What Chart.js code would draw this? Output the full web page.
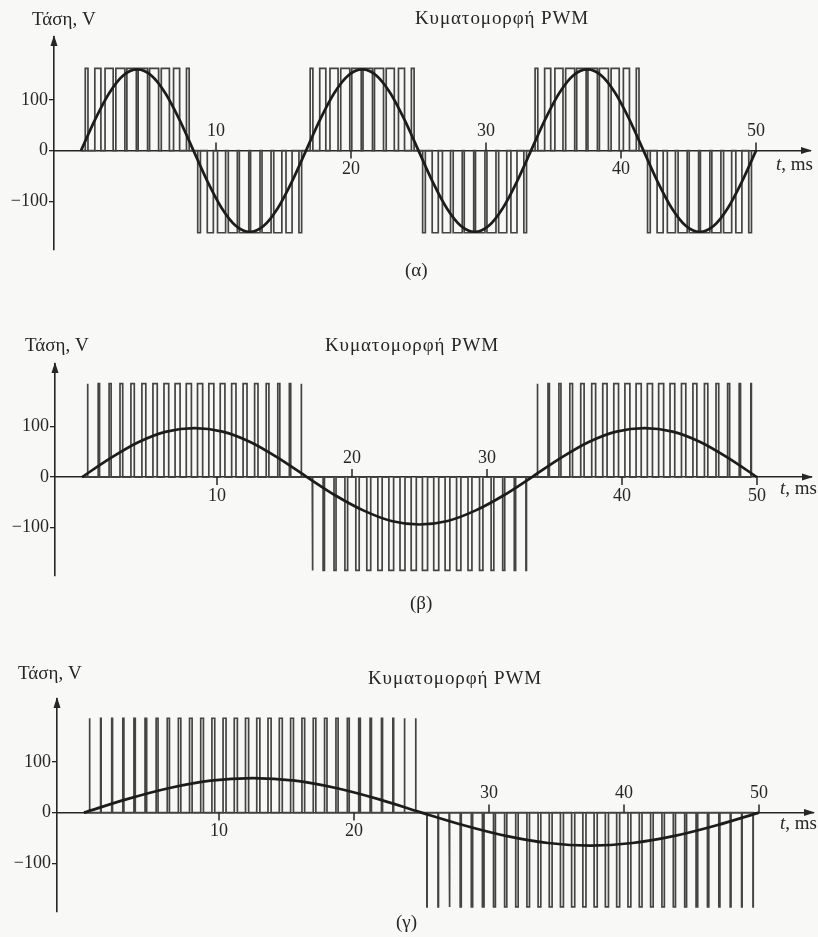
<!DOCTYPE html>
<html lang="el">
<head>
<meta charset="utf-8">
<title>Κυματομορφή PWM</title>
<script src="https://cdn.jsdelivr.net/npm/chart.js@4.4.1/dist/chart.umd.min.js"></script>
<style>
  body { margin: 0; background: #f8f8f6; }
  #page { position: relative; width: 818px; height: 937px; overflow: hidden;
          font-family: "Liberation Serif", "DejaVu Serif", serif; color: #262626; }
  canvas { position: absolute; left: 0; }
  .txt { position: absolute; white-space: nowrap; font-size: 19px; line-height: 20px; }
  .ttl { letter-spacing: 0.9px; }
</style>
</head>
<body>
<div id="page">
  <canvas id="chartA" width="818" height="290" style="top:0px"></canvas>
  <canvas id="chartB" width="818" height="320" style="top:300px"></canvas>
  <canvas id="chartC" width="818" height="317" style="top:620px"></canvas>

  <div class="txt" style="left:32px; top:9px">Τάση, V</div>
  <div class="txt ttl" style="left:415px; top:8px">Κυματομορφή PWM</div>
  <div class="txt" style="left:776px; top:154px"><i>t</i>, ms</div>
  <div class="txt" style="left:405px; top:260px">(α)</div>

  <div class="txt" style="left:25px; top:335px">Τάση, V</div>
  <div class="txt ttl" style="left:325px; top:335px">Κυματομορφή PWM</div>
  <div class="txt" style="left:780px; top:478px"><i>t</i>, ms</div>
  <div class="txt" style="left:410px; top:593px">(β)</div>

  <div class="txt" style="left:18px; top:663px">Τάση, V</div>
  <div class="txt ttl" style="left:368px; top:668px">Κυματομορφή PWM</div>
  <div class="txt" style="left:780px; top:813px"><i>t</i>, ms</div>
  <div class="txt" style="left:396px; top:912px">(γ)</div>
</div>

<script>
// axes shared by the three plots
const xTicks = [10, 20, 30, 40, 50];
const yTicks = [-100, 0, 100];
const tMin = -2, tMax = 54;
const vMin = -196, vMax = 224;
const carrierMs = 0.833;   // spacing of the pulses

// (α) 60 Hz reference, 10 pulses per half cycle
const alphaPulseV = 162;
const alphaWidths = [0.2, 0.45, 0.6, 0.67, 0.7, 0.7, 0.67, 0.6, 0.45, 0.2];
const alphaSigns = [1, -1, 1, -1, 1, -1];
const alphaSineStep = 1.0417;
const alphaSine = [0, 61, 113, 148, 160, 148, 113, 61, 0, -61, -113, -148, -160, -148, -113, -61,
                   0, 61, 113, 148, 160, 148, 113, 61, 0, -61, -113, -148, -160, -148, -113, -61,
                   0, 61, 113, 148, 160, 148, 113, 61, 0, -61, -113, -148, -160, -148, -113, -61, 0];
const alphaLabelSide = [1, -1, 1, -1, 1];   // 1 = label above the axis

// (β) 30 Hz reference, 20 pulses per half cycle
const betaPulseV = 185;
const betaWidths = [0.04, 0.1, 0.15, 0.2, 0.25, 0.29, 0.32, 0.35, 0.37, 0.38,
                    0.38, 0.37, 0.35, 0.32, 0.29, 0.25, 0.2, 0.15, 0.1, 0.04];
const betaSigns = [1, -1, 1];
const betaSineStep = 2.0833;
const betaSine = [0, 37, 69, 90, 97, 90, 69, 37, 0, -36, -66, -87, -94, -87, -66, -36,
                  0, 37, 69, 90, 97, 90, 69, 37, 0];
const betaLabelSide = [-1, 1, 1, -1, -1];

// (γ) 20 Hz reference, 30 pulses per half cycle
const gammaPulseV = 186;
const gammaWidths = [0.02, 0.04, 0.06, 0.08, 0.1, 0.12, 0.14, 0.16, 0.18, 0.19, 0.2, 0.21, 0.22, 0.23, 0.23,
                     0.23, 0.23, 0.22, 0.21, 0.2, 0.19, 0.18, 0.16, 0.14, 0.12, 0.1, 0.08, 0.06, 0.04, 0.02];
const gammaSigns = [1, -1];
const gammaSineStep = 3.125;
const gammaSine = [0, 26, 48, 63, 68, 63, 48, 26, 0, -25, -46, -60, -65, -60, -46, -25, 0];
const gammaLabelSide = [-1, -1, 1, 1, 1];

const ink = "#262626";

function pulseTrain(widths, signs, height) {
    const pts = [{x: 0, y: 0}];
    let k = 0;
    signs.forEach(s => {
        widths.forEach(w => {
            const c = (k + 0.5) * carrierMs;
            pts.push({x: c - w / 2, y: 0}, {x: c - w / 2, y: s * height},
                     {x: c + w / 2, y: s * height}, {x: c + w / 2, y: 0});
            k++;
        });
    });
    return pts;
}

function sinePoints(step, values) {
    return values.map((v, i) => ({x: i * step, y: v}));
}

// arrows and the alternating x labels
function axesPlugin(labelSide) {
    return {
        id: "pwmAxes",
        afterDraw(chart) {
            const ctx = chart.ctx;
            const area = chart.chartArea;
            const xs = chart.scales.x;
            const y0 = chart.scales.y.getPixelForValue(0);
            ctx.save();
            ctx.fillStyle = ink;
            ctx.strokeStyle = ink;
            ctx.lineWidth = 1.5;

            ctx.beginPath();
            ctx.moveTo(area.left, area.top - 2);
            ctx.lineTo(area.left - 3.5, area.top + 9);
            ctx.lineTo(area.left + 3.5, area.top + 9);
            ctx.closePath();
            ctx.fill();

            ctx.beginPath();
            ctx.moveTo(area.right + 2, y0);
            ctx.lineTo(area.right - 9, y0 - 3.5);
            ctx.lineTo(area.right - 9, y0 + 3.5);
            ctx.closePath();
            ctx.fill();

            ctx.font = '18px "Liberation Serif", serif';
            ctx.textAlign = "center";
            ctx.textBaseline = "middle";
            xTicks.forEach((t, i) => {
                const px = xs.getPixelForValue(t);
                const side = labelSide[i];
                ctx.beginPath();
                ctx.moveTo(px, y0);
                ctx.lineTo(px, y0 - side * 8);
                ctx.stroke();
                ctx.fillText(String(t), px, y0 - side * 19);
            });
            ctx.restore();
        }
    };
}

function makePanel(id, pad, axisWidth, pulses, sine, labelSide) {
    return new Chart(document.getElementById(id), {
        type: "line",
        data: {
            datasets: [
                {
                    data: sine,
                    borderColor: "#1c1c1c",
                    borderWidth: 2.7,
                    pointRadius: 0,
                    cubicInterpolationMode: "monotone"
                },
                {
                    data: pulses,
                    borderColor: "#444444",
                    borderWidth: 1.7,
                    pointRadius: 0,
                    tension: 0
                }
            ]
        },
        options: {
            responsive: false,
            animation: false,
            events: [],
            layout: { padding: pad },
            plugins: { legend: { display: false }, tooltip: { enabled: false } },
            scales: {
                x: {
                    type: "linear",
                    position: { y: 0 },
                    min: tMin,
                    max: tMax,
                    grid: { display: false },
                    border: { display: true, color: ink, width: 1.6 },
                    ticks: { display: false }
                },
                y: {
                    min: vMin,
                    max: vMax,
                    afterBuildTicks: s => { s.ticks = yTicks.map(v => ({ value: v })); },
                    afterFit: s => { s.width = axisWidth; },
                    grid: { display: true, drawOnChartArea: false, tickLength: 5, color: ink, lineWidth: 1.3 },
                    border: { display: true, color: ink, width: 1.6 },
                    ticks: {
                        color: ink,
                        padding: 1,
                        font: { family: '"Liberation Serif", serif', size: 18 },
                        callback: v => String(v).replace("-", "\u2212")
                    }
                }
            }
        },
        plugins: [axesPlugin(labelSide)]
    });
}

makePanel("chartA", { top: 37, bottom: 40, left: 0, right: 8 }, 54,
    pulseTrain(alphaWidths, alphaSigns, alphaPulseV), sinePoints(alphaSineStep, alphaSine), alphaLabelSide);
makePanel("chartB", { top: 64, bottom: 44, left: 0, right: 7 }, 55,
    pulseTrain(betaWidths, betaSigns, betaPulseV), sinePoints(betaSineStep, betaSine), betaLabelSide);
makePanel("chartC", { top: 79, bottom: 25, left: 0, right: 5 }, 57,
    pulseTrain(gammaWidths, gammaSigns, gammaPulseV), sinePoints(gammaSineStep, gammaSine), gammaLabelSide);
</script>
</body>
</html>
